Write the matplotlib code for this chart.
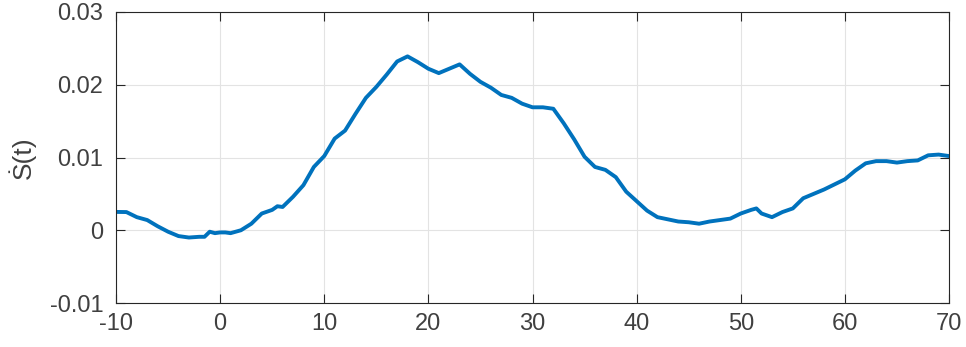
import numpy as np
import matplotlib
matplotlib.use("Agg")
import matplotlib.pyplot as plt

# values
t = [-10, -9, -8, -7, -6, -5, -4, -3, -2, -1.5, -1, -0.5, 0, 0.5, 1, 2, 3, 4, 5, 5.5, 6, 7, 8, 9,
     10, 11, 12, 13, 14, 15, 16, 17, 18, 19, 20, 21, 22, 23, 24, 25, 26, 27, 28, 29,
     30, 31, 32, 33, 34, 35, 36, 37, 38, 39, 40, 41, 42, 43, 44, 45, 46, 47, 48, 49,
     50, 51, 51.5, 52, 53, 54, 55, 56, 57, 58, 59, 60, 61, 62, 63, 64, 65, 66, 67, 68, 69, 70]
sdot = [0.00252, 0.0025, 0.0018, 0.0014, 0.00055, -0.0002, -0.0008, -0.001, -0.0009, -0.0009,
        -0.0002, -0.0004, -0.0003, -0.0003, -0.0004, 0.0, 0.0009, 0.0023, 0.0028, 0.0033, 0.0032,
        0.0046, 0.0062, 0.0087,
        0.0102, 0.0126, 0.0137, 0.016, 0.0182, 0.0197, 0.0214, 0.0232, 0.0239, 0.0231, 0.0222,
        0.0216, 0.0222, 0.0228, 0.0215, 0.0204, 0.0196, 0.0186, 0.0182, 0.0174,
        0.0169, 0.0169, 0.0167, 0.0147, 0.0125, 0.0101, 0.0087, 0.0083, 0.0073, 0.0053, 0.004,
        0.0027, 0.0018, 0.0015, 0.0012, 0.0011, 0.0009, 0.0012, 0.0014, 0.0016,
        0.0023, 0.0028, 0.003, 0.0023, 0.0018, 0.0025, 0.003, 0.0044, 0.005, 0.0056, 0.0063,
        0.007, 0.0082, 0.0092, 0.0095, 0.0095, 0.0093, 0.0095, 0.0096, 0.0103, 0.0104, 0.0102]

xticks = [-10, 0, 10, 20, 30, 40, 50, 60, 70]
yticks = [-0.01, 0, 0.01, 0.02, 0.03]
yticklabels = ["-0.01", "0", "0.01", "0.02", "0.03"]

plt.rcParams['font.family'] = ['Liberation Sans', 'DejaVu Sans']

fig = plt.figure(figsize=(9.66, 3.47), dpi=100)
ax = fig.add_axes([116 / 966, 1 - 303 / 347, 833 / 966, 291 / 347])

ax.plot(t, sdot, color='#0072BD', linewidth=2.8, solid_capstyle='round', solid_joinstyle='round')

ax.set_xlim(-10, 70)
ax.set_ylim(-0.01, 0.03)
ax.set_xticks(xticks)
ax.set_xticklabels([str(v) for v in xticks])
ax.set_yticks(yticks)
ax.set_yticklabels(yticklabels)
ax.grid(True, color='#e3e3e3', linewidth=0.8)
ax.set_axisbelow(True)

for s in ax.spines.values():
    s.set_color('#262626')
    s.set_linewidth(0.8)
ax.tick_params(direction='in', length=6.5, width=0.8, color='#262626',
               top=True, right=True, labelsize=17, labelcolor='#404040')
ax.tick_params(axis='x', pad=7)
ax.tick_params(axis='y', pad=9)

ax.set_ylabel('Ṡ(t)', fontsize=19, color='#404040', labelpad=10)

fig.savefig('out.png', dpi=100)
